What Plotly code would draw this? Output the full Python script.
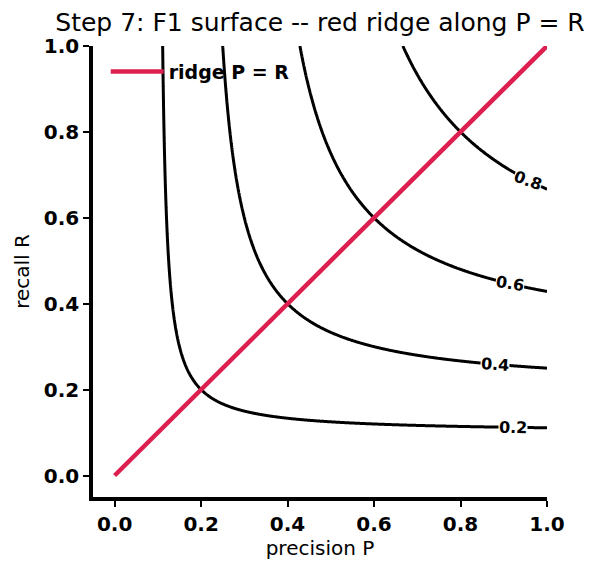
import numpy as np
import plotly.graph_objects as go

# Data
precision = np.linspace(0.001, 1.0, 500)
recall = np.linspace(0.001, 1.0, 500)
f1_levels = [0.2, 0.4, 0.6, 0.8]
level_labels = ["0.2", "0.4", "0.6", "0.8"]
label_p = [0.921, 0.879, 0.914, 0.956]
label_angle = [1, 4, 9, 20]
ridge_p = [0.0, 1.0]
ridge_r = [0.0, 1.0]
ticks = [0.0, 0.2, 0.4, 0.6, 0.8, 1.0]
tick_text = ["0.0", "0.2", "0.4", "0.6", "0.8", "1.0"]

PP, RR = np.meshgrid(precision, recall)
F1 = 2 * PP * RR / (PP + RR)

fig = go.Figure()
fig.add_trace(go.Contour(
    x=precision, y=recall, z=F1,
    contours=dict(start=f1_levels[0], end=f1_levels[-1], size=0.2, coloring="lines"),
    colorscale=[[0, "black"], [1, "black"]],
    line=dict(width=3, smoothing=1),
    showscale=False, showlegend=False, hoverinfo="skip",
))
fig.add_trace(go.Scatter(
    x=ridge_p, y=ridge_r, mode="lines",
    line=dict(color="#dc1f4e", width=4.5),
    name="ridge P = R", showlegend=True,
))

for lvl, txt, p, ang in zip(f1_levels, level_labels, label_p, label_angle):
    r = lvl * p / (2 * p - lvl)
    fig.add_annotation(
        x=p, y=r, text="<b>%s</b>" % txt, showarrow=False,
        textangle=ang, bgcolor="white", borderpad=0,
        font=dict(family="DejaVu Sans", size=16, color="black"),
    )

axis_common = dict(
    showgrid=False, zeroline=False, showline=True, linecolor="black", linewidth=3.5,
    ticks="outside", ticklen=6, tickwidth=1.5, tickcolor="black",
    tickvals=ticks, ticktext=tick_text,
    tickfont=dict(family="DejaVu Sans", size=20, color="black", weight="bold"),
    title_font=dict(family="DejaVu Sans", size=20, color="black"),
)
fig.update_xaxes(range=[-0.05, 1.0], title_text="precision P", title_standoff=6, **axis_common)
fig.update_yaxes(range=[-0.05, 1.0], title_text="recall R", title_standoff=10, **axis_common)

fig.update_layout(
    width=604, height=573,
    margin=dict(l=93, r=57, t=46, b=76),
    plot_bgcolor="white", paper_bgcolor="white",
    showlegend=True,
    title=dict(text="Step 7: F1 surface -- red ridge along P = R", x=0.5, xref="paper",
               xanchor="center", y=0.962, yanchor="middle",
               font=dict(family="DejaVu Sans", size=25, color="black")),
    legend=dict(x=0.028, y=0.985, xanchor="left", yanchor="top", bgcolor="rgba(0,0,0,0)",
                font=dict(family="DejaVu Sans", size=19, color="black", weight="bold"),
                itemwidth=53),
)

fig.write_html("out.html")
